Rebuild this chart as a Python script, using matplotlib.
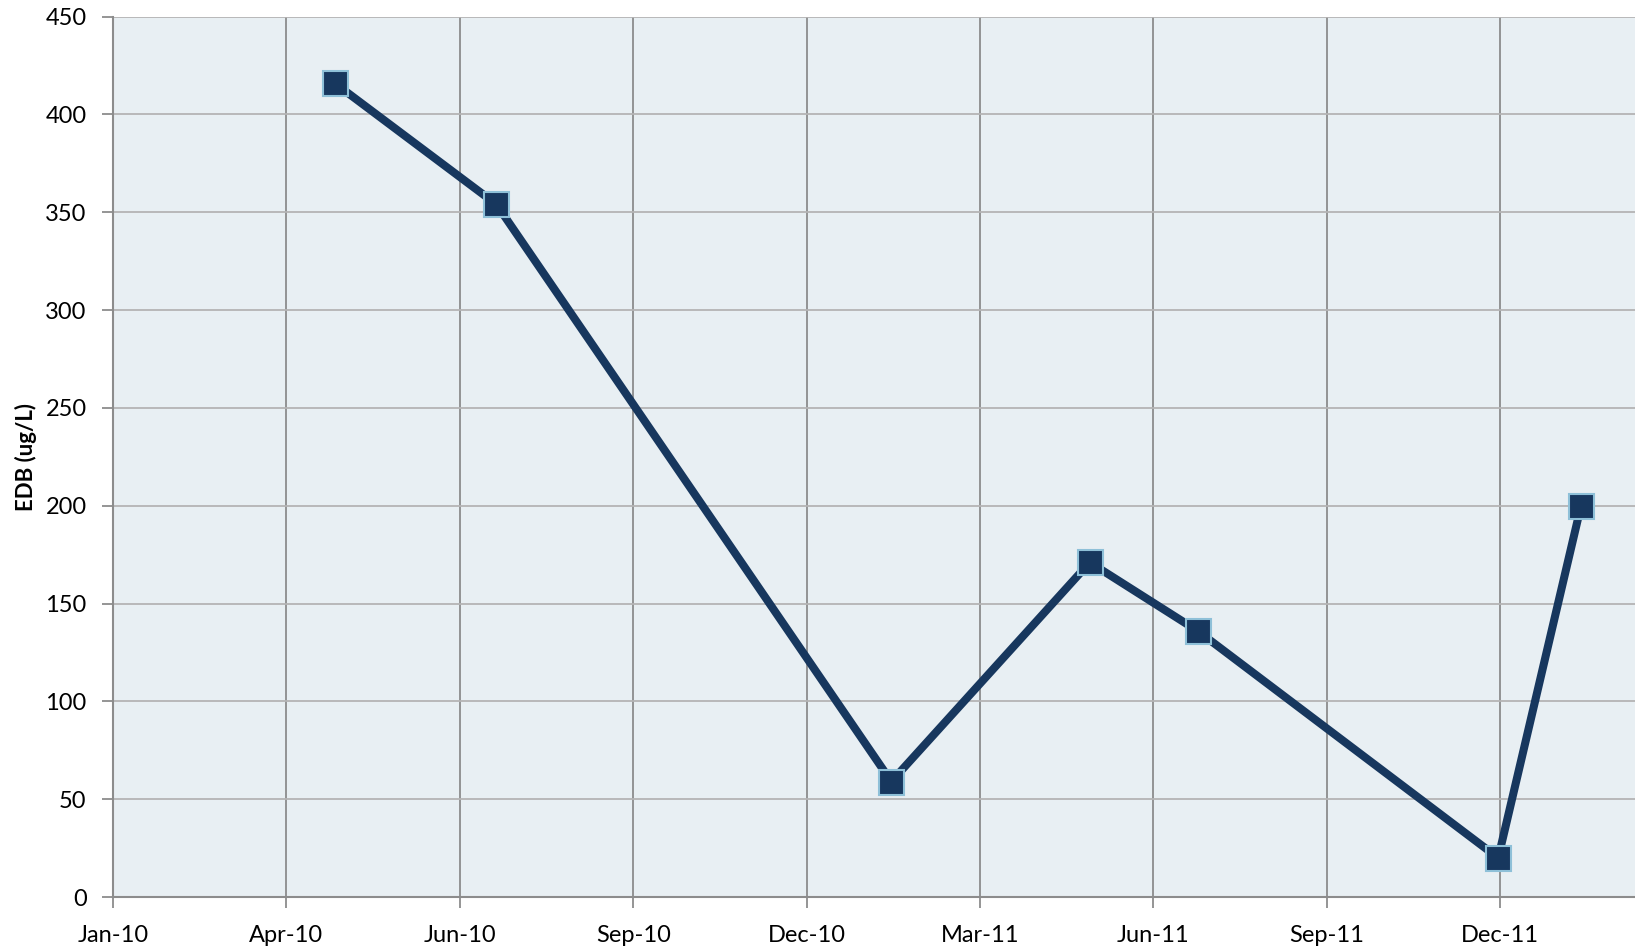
import matplotlib
matplotlib.use("Agg")
import matplotlib.pyplot as plt
import matplotlib.dates as mdates
import numpy as np
from datetime import datetime, timedelta

plt.rcParams['font.family'] = ['Lato', 'DejaVu Sans']

# Data
sample_dates = ["2010-04-26", "2010-07-19", "2011-02-09", "2011-05-23",
                "2011-07-18", "2011-12-21", "2012-02-02"]
edb_values = [416, 354, 59, 171, 136, 20, 200]

x_start = datetime(2010, 1, 1)
x_end = datetime(2012, 3, 1)
tick_step_days = 90
y_ticks = list(range(0, 451, 50))

dates = [datetime.strptime(d, "%Y-%m-%d") for d in sample_dates]

fig = plt.figure(figsize=(16.35, 9.48), dpi=100)
ax = fig.add_axes([113/1635, 51/948, 1 - 113/1635, (897-16.5)/948])
ax.set_facecolor('#E8EFF3')

ax.plot(dates, edb_values, color='#17375E', lw=5.8, marker='s', ms=18,
        mfc='#17375E', mec='#8EC0D8', mew=1.5, zorder=3, solid_joinstyle='miter')

ticks = []
t = x_start
while t <= x_end:
    ticks.append(t)
    t += timedelta(days=tick_step_days)
ax.set_xticks(ticks)
ax.xaxis.set_major_formatter(mdates.DateFormatter('%b-%y'))
ax.set_xlim(x_start, x_end)
ax.set_ylim(0, 450)
ax.set_yticks(y_ticks)

ax.grid(axis='x', color='#8C8C8C', lw=1.3, zorder=1)
ax.grid(axis='y', color='#B4B4B4', lw=1.3, zorder=1)
ax.set_axisbelow(True)

for s in ['top', 'right']:
    ax.spines[s].set_visible(False)
for s in ['left', 'bottom']:
    ax.spines[s].set_color('#8C8C8C')
    ax.spines[s].set_linewidth(1.5)

ax.tick_params(axis='both', colors='#8C8C8C', labelcolor='black', length=8, width=1.3,
               labelsize=17)
ax.tick_params(axis='y', pad=11)
ax.tick_params(axis='x', pad=12)

ax.set_ylabel('EDB (ug/L)', fontsize=16, fontweight='bold', labelpad=6)

fig.savefig('out.png', dpi=100)
